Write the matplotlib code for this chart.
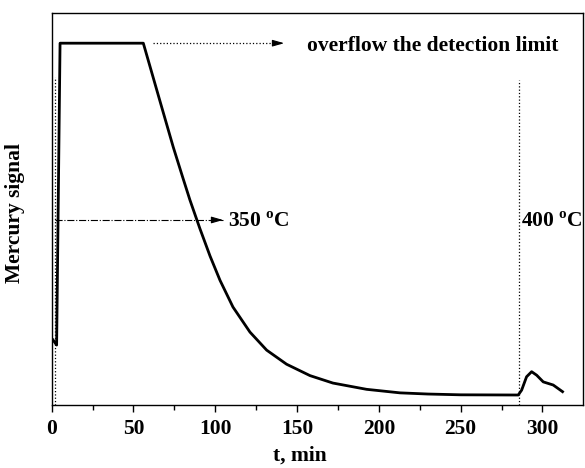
import matplotlib
matplotlib.use('Agg')
import matplotlib.pyplot as plt
import numpy as np

plt.rcParams['font.family'] = 'Liberation Serif'
plt.rcParams['font.weight'] = 'bold'
plt.rcParams['mathtext.fontset'] = 'custom'
plt.rcParams['mathtext.rm'] = 'Liberation Serif:bold'
plt.rcParams['mathtext.bf'] = 'Liberation Serif:bold'

# valores (t en min, senal en unidades arbitrarias)
tiempo = [0.8, 3.0, 5.1, 56.0, 60.0, 66.2, 74.3, 80.0, 84.5, 90.6, 96.8,
          102.9, 110.8, 121.2, 131.4, 143.6, 157.9, 171.9, 192.5, 212.9,
          230.0, 250.0, 285.2, 287.3, 290.3, 293.4, 296.5, 300.5, 306.6, 312.3]
senal = [16.6, 15.3, 92.3, 92.3, 86.5, 77.5, 65.8, 58.2, 52.3, 45.0, 38.0,
         31.8, 25.0, 18.6, 14.0, 10.4, 7.5, 5.6, 4.0, 3.1,
         2.8, 2.6, 2.55, 3.8, 7.2, 8.5, 7.6, 5.9, 5.1, 3.4]

t_350 = 2.0
t_400 = 285.8
texto_limite = 'overflow the detection limit'
texto_350 = '350 $^{\\rm o}$C'
texto_400 = '400 $^{\\rm o}$C'

fig = plt.figure(figsize=(5.85, 4.68), dpi=100)
ax = fig.add_axes([0.0884, 0.1346, 0.9076, 0.8376])

ax.plot(tiempo, senal, color='k', lw=2.0)

# lineas de referencia
ax.plot([t_350, t_350], [0, 83.7], color='k', lw=0.9, ls=':')
ax.plot([t_400, t_400], [0, 82.9], color='k', lw=0.9, ls=':')

# flecha de 350 C
ax.plot([t_350, 105], [47.2, 47.2], color='k', lw=0.8, ls='-.')
ax.annotate('', xy=(106.5, 47.2), xytext=(100, 47.2),
            arrowprops=dict(arrowstyle='-|>,head_length=0.7,head_width=0.2',
                            color='k', lw=0.8))
ax.text(107.8, 46.8, texto_350, fontsize=15.5, fontweight='bold', va='center')

# flecha del limite de deteccion
ax.plot([62, 140], [92.3, 92.3], color='k', lw=0.9, ls=':')
ax.annotate('', xy=(143.8, 92.3), xytext=(137, 92.3),
            arrowprops=dict(arrowstyle='-|>,head_length=0.7,head_width=0.2',
                            color='k', lw=0.8))
ax.text(156, 91.7, texto_limite, fontsize=15.5, fontweight='bold', va='center')

ax.text(287.2, 46.8, texto_400, fontsize=15.5, fontweight='bold', va='center',
        clip_on=False)

ax.set_xlim(0, 324.6)
ax.set_ylim(0, 100)
ax.set_xticks([0, 50, 100, 150, 200, 250, 300])
ax.set_xticks(np.arange(25, 325, 50), minor=True)
ax.set_yticks([])
ax.tick_params(axis='x', which='major', direction='out', length=5, width=1,
               labelsize=15.5, pad=5)
ax.tick_params(axis='x', which='minor', direction='out', length=3.5, width=1)
for lab in ax.get_xticklabels():
    lab.set_fontweight('bold')
for s in ax.spines.values():
    s.set_linewidth(1.0)

ax.set_xlabel('t, min', fontsize=15.5, fontweight='bold')
ax.xaxis.set_label_coords(0.468, -0.104)
ax.set_ylabel('Mercury signal', fontsize=15.5, fontweight='bold')
ax.yaxis.set_label_coords(-0.05, 0.49)

plt.savefig('out.png', dpi=100)
